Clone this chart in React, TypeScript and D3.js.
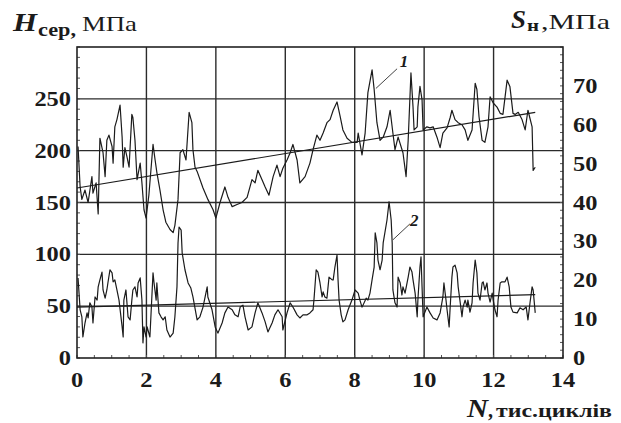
import * as d3 from "d3";

// curve 1 — H_сер (left axis), N in thousands of cycles
const h1N = [
  0.03, 0.09, 0.14, 0.23, 0.32, 0.43, 0.46, 0.55, 0.61, 0.66, 0.75, 0.81, 0.86, 0.92, 1.01, 1.04, 1.09, 1.15,
  1.24, 1.3, 1.33, 1.38, 1.44, 1.5, 1.58, 1.61, 1.67, 1.73, 1.82, 1.87, 1.93, 1.99, 2.07, 2.19, 2.25, 2.3, 2.39,
  2.48, 2.56, 2.68, 2.77, 2.82, 2.91, 2.97, 3.05, 3.14, 3.23, 3.31, 3.34, 3.4, 3.46, 3.63, 3.77, 3.92, 4.0, 4.12,
  4.26, 4.35, 4.47, 4.61, 4.75, 4.9, 5.04, 5.13, 5.21, 5.33, 5.42, 5.53, 5.65, 5.76, 5.85, 5.93, 6.05, 6.14, 6.22,
  6.34, 6.42, 6.57, 6.71, 6.8, 6.91, 7.0, 7.09, 7.2, 7.29, 7.38, 7.49, 7.58, 7.66, 7.78, 7.92, 8.07, 8.1, 8.21,
  8.3, 8.38, 8.5, 8.56, 8.64, 8.73, 8.82, 8.93, 9.02, 9.1, 9.16, 9.25, 9.39, 9.48, 9.54, 9.62, 9.68, 9.71, 9.8,
  9.82, 9.88, 9.94, 9.97, 10.08, 10.17, 10.26, 10.37, 10.46, 10.54, 10.66, 10.75, 10.8, 10.89, 10.98, 11.09,
  11.18, 11.26, 11.38, 11.47, 11.52, 11.58, 11.67, 11.75, 11.84, 11.9, 11.99, 12.1, 12.19, 12.27, 12.39, 12.47,
  12.56, 12.62, 12.71, 12.82, 12.91, 12.99, 13.11, 13.14, 13.2,
];
const h1Val = [
  204, 165, 153, 162, 150, 175, 159, 169, 139, 212, 198, 175, 210, 215, 204, 188, 223, 230, 244, 213, 184, 203,
  194, 184, 235, 232, 210, 172, 188, 169, 143, 135, 157, 206, 191, 179, 162, 143, 131, 124, 121, 128, 153, 198,
  201, 191, 237, 227, 201, 184, 180, 164, 153, 143, 135, 150, 165, 155, 146, 148, 150, 155, 172, 169, 181, 172,
  165, 157, 175, 186, 175, 183, 191, 198, 206, 191, 169, 175, 188, 201, 215, 210, 217, 227, 230, 239, 247, 233,
  220, 212, 208, 208, 217, 196, 217, 256, 278, 259, 227, 210, 213, 223, 239, 217, 201, 213, 198, 175, 210, 275,
  242, 220, 223, 242, 262, 249, 220, 223, 222, 223, 213, 203, 217, 222, 232, 239, 230, 227, 225, 220, 210, 220,
  265, 259, 233, 210, 208, 223, 252, 246, 242, 236, 235, 268, 262, 236, 235, 237, 230, 220, 239, 223, 181, 184,
];

// curve 2 — S_н (right axis)
const s2N = [
  0.03, 0.09, 0.14, 0.17, 0.23, 0.29, 0.32, 0.37, 0.43, 0.46, 0.52, 0.58, 0.61, 0.66, 0.72, 0.75, 0.81, 0.86,
  0.89, 0.95, 1.01, 1.04, 1.09, 1.15, 1.21, 1.3, 1.33, 1.35, 1.41, 1.47, 1.53, 1.58, 1.61, 1.67, 1.73, 1.76, 1.82,
  1.87, 1.9, 1.93, 1.99, 2.02, 2.1, 2.19, 2.22, 2.28, 2.3, 2.36, 2.42, 2.48, 2.54, 2.59, 2.68, 2.77, 2.82, 2.88,
  2.91, 2.94, 3.0, 3.03, 3.11, 3.2, 3.28, 3.34, 3.46, 3.54, 3.63, 3.75, 3.77, 3.89, 3.98, 4.06, 4.18, 4.26, 4.35,
  4.47, 4.55, 4.64, 4.7, 4.78, 4.84, 4.93, 5.04, 5.13, 5.21, 5.33, 5.42, 5.5, 5.62, 5.7, 5.79, 5.91, 5.93, 6.05,
  6.14, 6.22, 6.34, 6.42, 6.51, 6.63, 6.71, 6.8, 6.83, 6.89, 6.94, 7.0, 7.06, 7.09, 7.14, 7.2, 7.26, 7.35, 7.38,
  7.43, 7.49, 7.52, 7.55, 7.61, 7.66, 7.72, 7.81, 7.92, 8.01, 8.1, 8.15, 8.21, 8.24, 8.33, 8.38, 8.44, 8.5, 8.56,
  8.59, 8.64, 8.67, 8.73, 8.79, 8.82, 8.93, 8.99, 9.05, 9.08, 9.1, 9.16, 9.22, 9.25, 9.31, 9.36, 9.39, 9.45,
  9.54, 9.59, 9.65, 9.68, 9.74, 9.8, 9.82, 9.88, 9.91, 9.94, 9.97, 10.08, 10.17, 10.26, 10.37, 10.46, 10.54,
  10.57, 10.63, 10.66, 10.72, 10.75, 10.8, 10.83, 10.89, 10.95, 10.98, 11.03, 11.09, 11.12, 11.18, 11.24, 11.26,
  11.32, 11.38, 11.41, 11.47, 11.52, 11.55, 11.61, 11.67, 11.7, 11.75, 11.81, 11.84, 11.9, 11.96, 11.99, 12.04,
  12.1, 12.13, 12.19, 12.24, 12.33, 12.39, 12.45, 12.5, 12.56, 12.68, 12.76, 12.85, 12.94, 12.99, 13.05, 13.11,
  13.14, 13.2,
];
const s2Val = [
  20.6, 12.4, 10.6, 5.4, 9.0, 11.6, 10.3, 14.2, 13.1, 9.0, 15.7, 14.9, 18.3, 20.1, 22.1, 17.5, 15.4, 17.5, 19.3,
  22.7, 21.9, 19.6, 20.1, 17.5, 14.9, 8.0, 5.4, 14.9, 17.5, 10.6, 9.8, 14.9, 17.5, 18.3, 15.7, 19.3, 20.6, 14.9,
  3.9, 8.0, 5.4, 8.0, 5.4, 21.9, 19.3, 14.9, 19.3, 11.6, 10.6, 9.8, 10.6, 7.2, 5.4, 6.4, 10.6, 18.3, 29.6, 33.7,
  32.9, 27.0, 22.7, 19.3, 18.0, 15.7, 9.8, 10.6, 13.1, 18.3, 15.7, 12.4, 8.0, 6.4, 9.0, 11.6, 13.1, 12.4, 11.1,
  10.6, 13.1, 13.6, 10.6, 7.2, 8.0, 11.6, 14.2, 11.6, 9.3, 6.7, 9.0, 11.1, 12.4, 10.6, 7.2, 11.6, 14.2, 13.1,
  11.1, 10.3, 11.1, 11.1, 11.6, 12.4, 15.4, 22.7, 22.1, 19.3, 15.7, 17.0, 15.7, 15.4, 20.8, 20.1, 20.1, 23.4,
  26.5, 20.1, 14.9, 11.1, 9.3, 9.8, 12.4, 14.9, 17.5, 16.7, 14.9, 13.1, 13.6, 15.4, 14.9, 16.7, 20.1, 23.4, 32.2,
  29.6, 25.2, 22.7, 25.2, 29.6, 35.5, 40.2, 35.5, 29.6, 17.5, 14.2, 13.1, 20.8, 19.3, 16.2, 18.3, 16.7, 20.8,
  23.4, 22.1, 20.1, 16.7, 10.6, 14.9, 23.4, 26.0, 18.3, 10.6, 13.1, 11.6, 10.3, 9.8, 11.6, 15.7, 19.3, 14.9,
  12.4, 8.0, 13.1, 20.8, 23.4, 23.9, 21.9, 18.3, 14.9, 10.6, 13.1, 14.9, 13.1, 14.9, 11.8, 14.2, 19.3, 25.2,
  21.9, 16.7, 14.9, 19.3, 19.6, 17.5, 19.3, 16.7, 14.4, 16.7, 14.9, 12.4, 10.6, 14.9, 19.3, 19.6, 19.6, 20.8,
  18.3, 13.1, 11.8, 11.6, 12.9, 12.4, 13.1, 9.8, 14.2, 18.3, 17.5, 11.6,
];

// linear trends
const trend1N = [0, 13.2];
const trend1Val = [164, 237];
const trend2N = [0, 13.2];
const trend2Val = [13.1, 16.3];

const xTicks = [0, 2, 4, 6, 8, 10, 12, 14];
const leftTicks = [0, 50, 100, 150, 200, 250];
const rightTicks = [0, 10, 20, 30, 40, 50, 60, 70];

const W = 621;
const H = 423;
const SERIF = "'Liberation Serif', 'Times New Roman', Times, serif";
const INK = "#1b1b1b";

function Txt({
  x, y, size, anchor = "start", weight = "bold", italic = false, len, children,
}: {
  x: number; y: number; size: number; anchor?: string; weight?: string; italic?: boolean; len?: number;
  children: string;
}) {
  return (
    <text
      x={x}
      y={y}
      fontSize={size}
      fontFamily={SERIF}
      fontWeight={weight}
      fontStyle={italic ? "italic" : "normal"}
      textAnchor={anchor}
      fill={INK}
      textLength={len}
      lengthAdjust={len ? "spacingAndGlyphs" : undefined}
      style={{ fontFamily: SERIF }}
    >
      {children}
    </text>
  );
}

export default function App() {
  const x = d3.scaleLinear().domain([0, 14]).range([77, 563]);
  const yL = d3.scaleLinear().domain([0, 300]).range([358, 47]);
  const yR = d3.scaleLinear().domain([0, 80]).range([358, 47]);

  const lineL = d3.line<[number, number]>().x((d) => x(d[0])).y((d) => yL(d[1]));
  const lineR = d3.line<[number, number]>().x((d) => x(d[0])).y((d) => yR(d[1]));

  const c1 = h1N.map((n, i) => [n, h1Val[i]] as [number, number]);
  const c2 = s2N.map((n, i) => [n, s2Val[i]] as [number, number]);
  const t1 = trend1N.map((n, i) => [n, trend1Val[i]] as [number, number]);
  const t2 = trend2N.map((n, i) => [n, trend2Val[i]] as [number, number]);

  const [x0, x1] = x.range();
  const [yb, yt] = yL.range();

  const minorX = d3.range(0, 14.01, 0.5);
  const minorL = d3.range(0, 300.1, 10);
  const minorR = d3.range(0, 80.1, 2);
  const digit = 12.2;

  return (
    <svg
      width={W}
      height={H}
      style={{ position: "absolute", left: 0, top: 0, background: "#fff" }}
    >
      <rect width={W} height={H} fill="#fff" />

      {/* grid */}
      <g stroke="#2b2b2b" strokeWidth={1.4}>
        {xTicks.slice(1, -1).map((t) => (
          <line key={"gx" + t} x1={x(t)} x2={x(t)} y1={yb} y2={yt} />
        ))}
        {leftTicks.slice(1).map((t) => (
          <line key={"gy" + t} x1={x0} x2={x1} y1={yL(t)} y2={yL(t)} />
        ))}
      </g>

      {/* minor ticks */}
      <g stroke="#555" strokeWidth={1}>
        {minorX.map((t) => (
          <line key={"mx" + t} x1={x(t)} x2={x(t)} y1={yb} y2={yb - 3} />
        ))}
        {minorL.map((t) => (
          <line key={"ml" + t} x1={x0} x2={x0 + 3} y1={yL(t)} y2={yL(t)} />
        ))}
        {minorR.map((t) => (
          <line key={"mr" + t} x1={x1} x2={x1 - 3} y1={yR(t)} y2={yR(t)} />
        ))}
      </g>

      {/* frame */}
      <rect x={x0} y={yt} width={x1 - x0} height={yb - yt} fill="none" stroke="#222" strokeWidth={1.6} />

      {/* trend lines */}
      <path d={lineL(t1) ?? ""} fill="none" stroke={INK} strokeWidth={1.2} />
      <path d={lineR(t2) ?? ""} fill="none" stroke={INK} strokeWidth={1.2} />

      {/* curves */}
      <path d={lineL(c1) ?? ""} fill="none" stroke={INK} strokeWidth={1.2} strokeLinejoin="round" />
      <path d={lineR(c2) ?? ""} fill="none" stroke={INK} strokeWidth={1.2} strokeLinejoin="round" />

      {/* curve labels */}
      <line x1={x(9.22)} y1={yL(279)} x2={x(8.61)} y2={yL(260)} stroke="#444" strokeWidth={1} />
      <Txt x={x(9.3)} y={yL(281)} size={17} italic>1</Txt>
      <line x1={x(9.59)} y1={yR(34.5)} x2={x(9.1)} y2={yR(30.4)} stroke="#444" strokeWidth={1} />
      <Txt x={x(9.59)} y={yR(34)} size={17} italic>2</Txt>

      {/* tick labels */}
      {leftTicks.map((t) => (
        <Txt key={"lt" + t} x={71} y={yL(t) + 7} size={21} anchor="end" len={String(t).length * digit}>
          {String(t)}
        </Txt>
      ))}
      {rightTicks.map((t) => (
        <Txt key={"rt" + t} x={573} y={yR(t) + 7} size={21} len={String(t).length * digit}>
          {String(t)}
        </Txt>
      ))}
      {xTicks.map((t) => (
        <Txt key={"xt" + t} x={x(t)} y={387} size={21} anchor="middle" len={String(t).length * digit}>
          {String(t)}
        </Txt>
      ))}

      {/* axis titles */}
      <Txt x={13} y={31} size={25} italic len={24}>H</Txt>
      <Txt x={38} y={36} size={18} len={38}>сер,</Txt>
      <Txt x={82} y={31} size={22} weight="normal" len={55}>МПа</Txt>

      <Txt x={511} y={28} size={25} italic len={15}>S</Txt>
      <Txt x={527} y={31} size={16} len={12}>н</Txt>
      <Txt x={541} y={29} size={22} weight="normal" len={69}>,МПа</Txt>

      <Txt x={467} y={417} size={25} italic len={21}>N</Txt>
      <Txt x={488} y={417} size={22} len={5}>,</Txt>
      <Txt x={496} y={417} size={19} len={116}>тис.циклів</Txt>
    </svg>
  );
}
